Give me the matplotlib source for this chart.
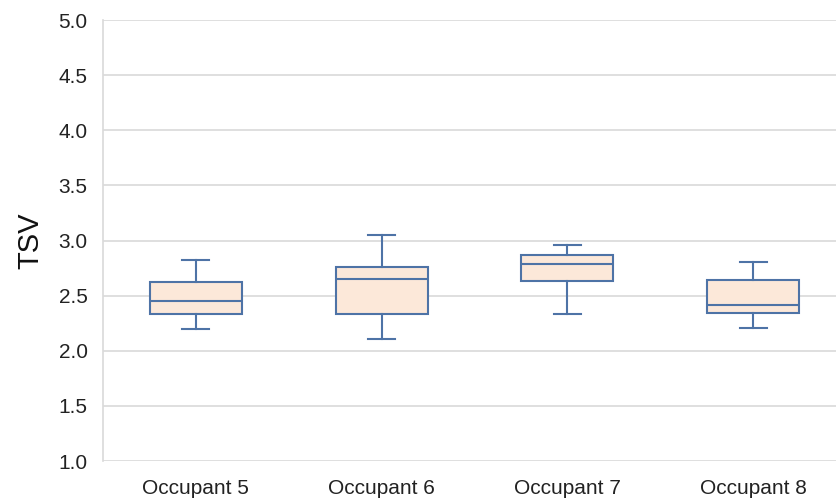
"""TSV box plots per occupant, drawn from summary statistics."""

import matplotlib
matplotlib.use('Agg')

import matplotlib.pyplot as plt

# ── Data ──────────────────────────────────────────────────────────────────────
occupants = ['Occupant 5', 'Occupant 6', 'Occupant 7', 'Occupant 8']
whisker_low  = [2.20, 2.11, 2.33, 2.21]
q1           = [2.33, 2.33, 2.63, 2.34]
median       = [2.45, 2.65, 2.79, 2.42]
q3           = [2.62, 2.76, 2.87, 2.64]
whisker_high = [2.82, 3.05, 2.96, 2.81]

y_ticks = [1.0, 1.5, 2.0, 2.5, 3.0, 3.5, 4.0, 4.5, 5.0]

# ── Style ─────────────────────────────────────────────────────────────────────
EDGE = '#4E73A6'
FILL = '#FCE8D9'
GRID = '#D9D9D9'

plt.rcParams['font.family'] = ['Liberation Sans', 'DejaVu Sans']

fig = plt.figure(figsize=(8.36, 5.04), dpi=100)
ax = fig.add_axes([0.123, 0.0853, 0.889, 0.8747])

stats = [
    dict(label=lbl, whislo=lo, q1=a, med=m, q3=b, whishi=hi, fliers=[])
    for lbl, lo, a, m, b, hi in zip(occupants, whisker_low, q1, median, q3, whisker_high)
]

ax.bxp(
    stats, positions=range(len(stats)), widths=0.495, patch_artist=True,
    showfliers=False,
    boxprops=dict(facecolor=FILL, edgecolor=EDGE, linewidth=1.5),
    medianprops=dict(color=EDGE, linewidth=1.5),
    whiskerprops=dict(color=EDGE, linewidth=1.5),
    capprops=dict(color=EDGE, linewidth=1.5),
    capwidths=0.145,
)

ax.set_xlim(-0.5, len(stats) - 0.5)
ax.set_ylim(1.0, 5.0)
ax.set_yticks(y_ticks)
ax.set_yticklabels([f'{t:.1f}' for t in y_ticks])
ax.set_xticks(range(len(stats)))
ax.set_xticklabels(occupants)

ax.yaxis.grid(True, color=GRID, linewidth=1.2)
ax.set_axisbelow(True)
for side in ('top', 'right', 'bottom'):
    ax.spines[side].set_visible(False)
ax.spines['left'].set_color(GRID)
ax.spines['left'].set_linewidth(1.2)

ax.tick_params(axis='both', length=0, labelsize=15, colors='#222222')
ax.tick_params(axis='y', pad=11)
ax.tick_params(axis='x', pad=13)
ax.set_ylabel('TSV', fontsize=21, labelpad=10, color='#111111')

fig.savefig('out.png', dpi=100)
